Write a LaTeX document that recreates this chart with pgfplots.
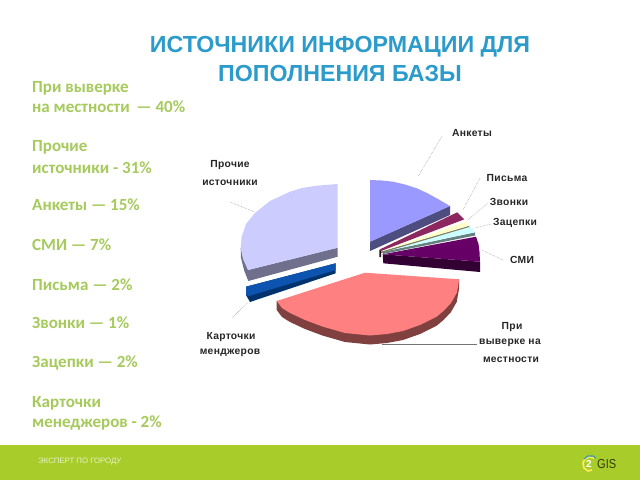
\documentclass[border=0pt]{standalone}
\usepackage{pgfplots}
\pgfplotsset{compat=1.18}
\usepackage{fontspec}
\setmainfont{Liberation Sans}
\newfontfamily\carl{Carlito}
\definecolor{lft}{HTML}{A6CA5C}
\definecolor{ttl}{HTML}{2A9BCB}
\definecolor{foot}{HTML}{A8CC2A}
\newcommand{\ltxt}[2]{\node[anchor=west,inner sep=0pt,text=lft,font=\carl\bfseries\fontsize{17}{17}\selectfont] at (axis cs:32,#1) {#2};}
\newcommand{\lab}[3]{\node[inner sep=0pt,text=black!85,font=\bfseries\fontsize{10.3}{10.3}\selectfont\addfontfeature{LetterSpace=3}] at (axis cs:#1,#2) {#3};}
\pgfplotsset{leader/.style={draw=black!45,line width=0.5pt,densely dotted,no marks}}
\begin{document}
\begin{tikzpicture}
\begin{axis}[at={(0pt,0pt)},anchor=south west,scale only axis,width=640pt,height=480pt,
 xmin=0,xmax=640,ymin=0,ymax=480,y dir=reverse,hide axis,clip=false,every axis plot/.append style={no marks}]
\addplot[fill=white,draw=none] coordinates {(0,0)(640,0)(640,480)(0,480)} -- cycle;
\addplot[fill=foot,draw=none] coordinates {(0,445)(640,445)(640,480)(0,480)} -- cycle;
% Прочие источники
\addplot[fill={rgb,255:red,112;green,112;blue,140},draw=none] coordinates {(240.7,248)(241,258)(244,270)(248.3,281)(337.7,256.7)(337.7,247.7)(248,270)} -- cycle;
\addplot[fill={rgb,255:red,204;green,204;blue,255},draw=none] coordinates {(337.7,184)(316.7,185.7)(302,188)(290,191.7)(270,201)(255,213)(246,224)(241.7,236.7)(240.7,248)(243,259)(248,270)(337.7,247.7)} -- cycle;
% Карточки менеджеров
\addplot[fill={rgb,255:red,0;green,51;blue,110},draw=none] coordinates {(246,286.7)(246,295)(250,302)(335.7,273.3)(335.7,263.3)} -- cycle;
\addplot[fill={rgb,255:red,12;green,84;blue,176},draw=none] coordinates {(335.7,263.3)(246,286.7)(246,295)(249,296)(335.7,270)} -- cycle;
% При выверке на местности
\addplot[fill={rgb,255:red,128;green,64;blue,64},draw=none] coordinates {(276.7,301)(276.7,310)(282,317)(290,322)(305,329)(323,335.7)(345,342)(370,344.5)(387,343)(403,340)(420,334)(436.7,325.7)(444,319.5)(451,312)(456.7,302)(459,289)(459,279.3)} -- cycle;
\addplot[fill={rgb,255:red,255;green,128;blue,128},draw=none] coordinates {(365,272.7)(276.7,301)(282,308)(290,313)(305,320)(323,326.7)(345,333)(370,335.5)(387,334)(403,331)(420,325)(436.7,316.7)(444,310.5)(451,303)(456.7,293)(458,287)(459,279.3)} -- cycle;
% Анкеты
\addplot[fill={rgb,255:red,77;green,77;blue,128},draw=none] coordinates {(370,241.7)(370,251)(450,215)(450,206)} -- cycle;
\addplot[fill={rgb,255:red,153;green,153;blue,255},draw=none] coordinates {(370,180)(382,180.5)(393,181.7)(405,184.5)(416.7,188.3)(427,193)(436.7,198.3)(450,206)(370,241.7)} -- cycle;
% СМИ
\addplot[fill={rgb,255:red,51;green,0;blue,51},draw=none] coordinates {(382.7,254.3)(383.3,263.3)(480,272)(480,261.7)} -- cycle;
\addplot[fill={rgb,255:red,102;green,0;blue,102},draw=none] coordinates {(382.7,254.3)(476,236.7)(478.5,244)(479.5,252)(480,261.7)} -- cycle;
% Зацепки
\addplot[fill={rgb,255:red,102;green,128;blue,128},draw=none] coordinates {(382,252)(383,254)(475,235.5)(475,232.3)} -- cycle;
\addplot[fill={rgb,255:red,204;green,255;blue,255},draw=none] coordinates {(382,252)(470,226.7)(473,229)(475,232.3)} -- cycle;
% Звонки
\addplot[fill={rgb,255:red,128;green,128;blue,102},draw=none] coordinates {(381,251.5)(381,253)(469.3,227)(469.3,225.7)} -- cycle;
\addplot[fill={rgb,255:red,255;green,255;blue,204},draw=none] coordinates {(381,251.5)(465.7,221.7)(469.3,225.7)} -- cycle;
% Письма
\addplot[fill={rgb,255:red,40;green,15;blue,30},draw=none] coordinates {(379.3,249.5)(379.3,257)(381,257)(381,250.5)} -- cycle;
\addplot[fill={rgb,255:red,140;green,40;blue,95},draw=none] coordinates {(380,249.3)(457.3,212.3)(464.3,219.3)(381,251)} -- cycle;
% leader lines
\addplot[leader] coordinates {(441.7,136.7)(418,176.7)};
\addplot[leader] coordinates {(480,178)(463,210)};
\addplot[leader] coordinates {(488,203)(468,220)};
\addplot[leader] coordinates {(491,224)(475,228)};
\addplot[leader] coordinates {(503,260)(482,250)};
\addplot[draw=black!55,line width=0.6pt] coordinates {(477,344)(382,344)};
\addplot[leader] coordinates {(230,202)(255,212)};
\addplot[leader] coordinates {(232,318)(248,302)};
% labels
\lab{472}{133}{Анкеты}
\lab{507}{178}{Письма}
\lab{509}{202}{Звонки}
\lab{515}{223}{Зацепки}
\lab{522}{260}{СМИ}
\lab{512}{327}{При}
\lab{510}{343}{выверке на}
\lab{511}{360}{местности}
\lab{230}{165}{Прочие}
\lab{230}{183}{источники}
\lab{231}{337}{Карточки}
\lab{230}{353}{менджеров}
% title
\node[align=center,text=ttl,inner sep=0pt,font=\bfseries\fontsize{23.2}{29}\selectfont] at (axis cs:340,59.5) {ИСТОЧНИКИ ИНФОРМАЦИИ ДЛЯ\\ПОПОЛНЕНИЯ БАЗЫ};
% left text
\ltxt{88}{При выверке}
\ltxt{107}{на местности\, — 40\%}
\ltxt{147}{Прочие}
\ltxt{168}{источники - 31\%}
\ltxt{205}{Анкеты — 15\%}
\ltxt{245}{СМИ — 7\%}
\ltxt{285}{Письма — 2\%}
\ltxt{323}{Звонки — 1\%}
\ltxt{363}{Зацепки — 2\%}
\ltxt{403}{Карточки}
\ltxt{423}{менеджеров - 2\%}
% footer
\node[anchor=west,inner sep=0pt,text=white!75!foot,font=\fontsize{7.8}{7.8}\selectfont] at (axis cs:38,462) {ЭКСПЕРТ ПО ГОРОДУ};
\node[anchor=west,inner sep=0pt,text=black!70!foot,xscale=0.85,font=\fontsize{13}{13}\selectfont] at (axis cs:597,464) {GIS};
\addplot[draw={rgb,255:red,255;green,235;blue,90},line width=1.6pt] coordinates {(594,458)(589,457)(585,459)(583,463)(584,468)(588,471)(592,470)};
\addplot[draw={rgb,255:red,60;green,150;blue,190},line width=1.2pt] coordinates {(584,459)(588,456)(593,456)(596,458)};
\node[inner sep=0pt,text=white,font=\bfseries\fontsize{10}{10}\selectfont] at (axis cs:589,464.5) {2};
\end{axis}
\end{tikzpicture}
\end{document}
